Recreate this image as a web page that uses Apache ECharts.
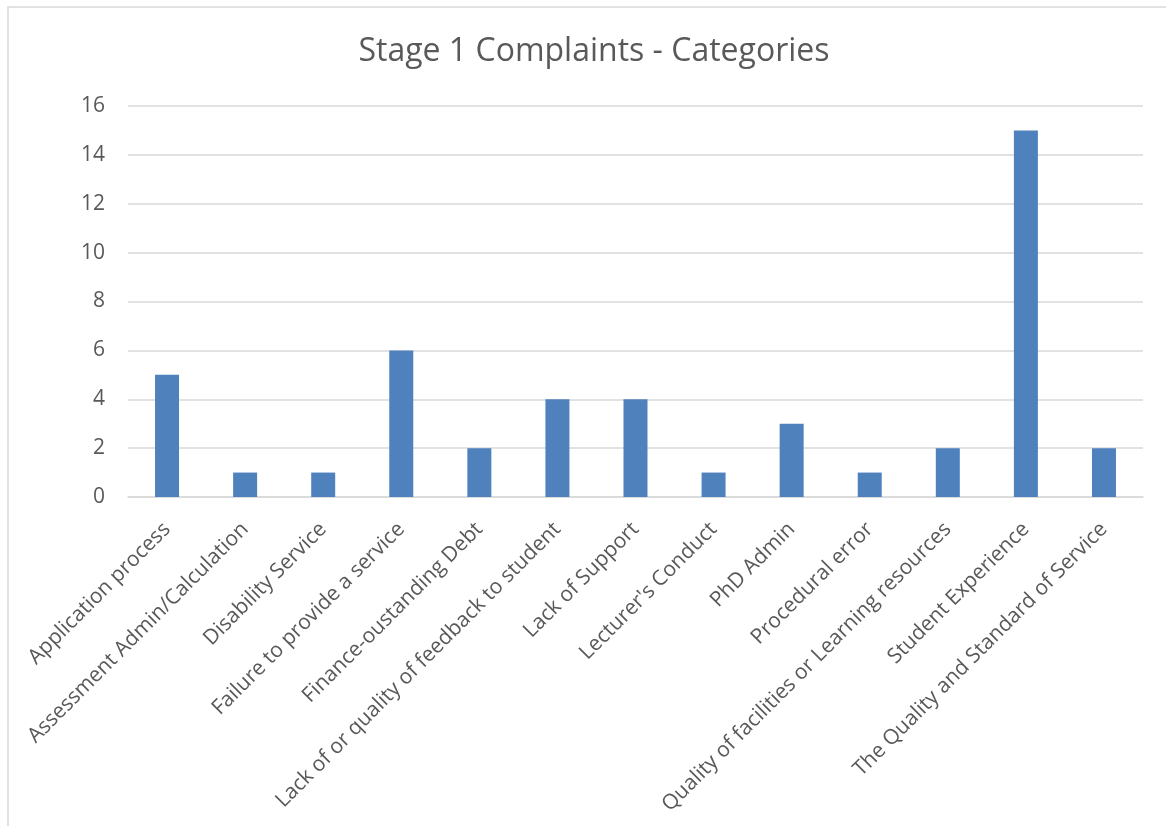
<!DOCTYPE html>
<html>
<head>
<meta charset="utf-8">
<script src="https://cdn.jsdelivr.net/npm/echarts@6/dist/echarts.min.js"></script>
<style>
html,body{margin:0;padding:0;background:#fff;}
#chart{width:1166px;height:826px;}
</style>
</head>
<body>
<div id="chart"></div>
<script>
const chartTitle = "Stage 1 Complaints - Categories";
const categories = [
  "Application process",
  "Assessment Admin/Calculation",
  "Disability Service",
  "Failure to provide a service",
  "Finance-oustanding Debt",
  "Lack of or quality of feedback to student",
  "Lack of Support",
  "Lecturer's Conduct",
  "PhD Admin",
  "Procedural error",
  "Quality of facilities or Learning resources",
  "Student Experience",
  "The Quality and Standard of Service"
];
const values = [5, 1, 1, 6, 2, 4, 4, 1, 3, 1, 2, 15, 2];
const yMin = 0, yMax = 16, yStep = 2;

const chart = echarts.init(document.getElementById('chart'), null, {renderer: 'canvas'});
chart.setOption({
  backgroundColor: '#ffffff',
  animation: false,
  graphic: [{
    type: 'rect',
    shape: {x: 8, y: 7, width: 1180, height: 840},
    style: {fill: 'none', stroke: '#d9d9d9', lineWidth: 1.5},
    silent: true, z: -1
  }],
  title: {
    text: chartTitle,
    left: 589,
    top: 31,
    textAlign: 'center',
    textStyle: {
      fontFamily: 'Open Sans',
      fontSize: 32,
      fontWeight: 'normal',
      color: '#595959'
    }
  },
  grid: {left: 128, right: 23, top: 106, bottom: 329, containLabel: false},
  xAxis: {
    type: 'category',
    data: categories,
    axisLine: {show: true, lineStyle: {color: '#d9d9d9', width: 1.5}},
    axisTick: {show: false},
    axisLabel: {
      interval: 0,
      rotate: 45,
      margin: 29,
      fontFamily: 'Open Sans',
      fontSize: 21,
      color: '#595959'
    }
  },
  yAxis: {
    type: 'value',
    min: yMin, max: yMax, interval: yStep,
    axisLine: {show: false},
    axisTick: {show: false},
    splitLine: {lineStyle: {color: '#d9d9d9', width: 1.5}},
    axisLabel: {
      margin: 23,
      fontFamily: 'Open Sans',
      fontSize: 21,
      color: '#595959'
    }
  },
  series: [{
    type: 'bar',
    data: values,
    barWidth: 24,
    itemStyle: {color: '#4F81BD'}
  }]
});
</script>
</body>
</html>
